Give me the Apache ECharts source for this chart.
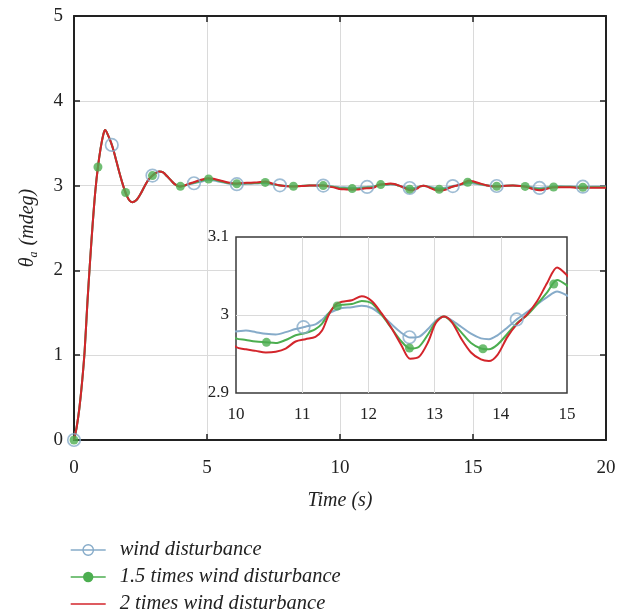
<!DOCTYPE html>
<html><head><meta charset="utf-8">
<script src="https://cdn.jsdelivr.net/npm/echarts@6/dist/echarts.min.js"></script>
<style>html,body{margin:0;padding:0;background:#fff}#c{width:626px;height:612px}</style>
</head><body><div id="c"></div>
<script>
// ---- data ----
const time = [
  0,0.1,0.2,0.3,0.4,0.5,0.6,0.7,0.8,0.9,1.0,1.1,1.17,1.3,1.4,1.5,1.6,1.7,1.8,1.9,2.0,2.1,2.2,
  2.35,2.5,2.65,2.8,2.92,3.05,3.2,3.35,3.5,3.65,3.8,3.98,
  4.15,4.3,4.5,4.75,5.05,5.25,5.5,5.75,6.05,6.35,6.65,6.9,7.2,7.45,7.7,
  8.0,8.25,8.55,8.85,9.1,9.37,9.65,9.85,
  10.0,10.15,10.3,10.45,10.6,10.75,10.9,11.05,11.2,11.3,11.4,11.5,11.6,11.75,11.9,12.05,12.2,12.35,12.5,
  12.63,12.76,12.9,13.02,13.14,13.26,13.4,13.55,13.7,13.82,13.95,14.1,14.25,14.4,14.55,14.7,14.85,15.0,
  15.25,15.5,15.75,16.0,16.25,16.5,16.75,17.0,17.25,17.5,17.75,18.0,18.3,18.65,18.9,19.15,19.5,19.75,20.0
];
const windDisturbance = [
  0,0.15,0.37,0.67,1.05,1.6,2.09,2.54,2.93,3.22,3.44,3.6,3.655,3.58,3.5,3.4,3.28,3.16,3.05,2.95,2.87,2.82,2.805,
  2.83,2.9,2.99,3.07,3.11,3.145,3.165,3.155,3.11,3.06,3.015,2.99,
  3.0,3.013,3.027,3.045,3.065,3.06,3.044,3.028,3.016,3.019,3.022,3.025,3.029,3.015,3.004,
  2.996,2.995,2.997,3.0,3.001,3.0,2.992,2.986,
  2.979,2.980,2.978,2.976,2.975,2.978,2.982,2.985,2.988,2.994,3.002,3.006,3.009,3.010,3.012,3.009,3.0,2.988,2.977,
  2.971,2.972,2.982,2.993,2.998,2.993,2.985,2.976,2.970,2.969,2.974,2.984,2.995,3.004,3.014,3.023,3.030,3.025,
  3.014,3.003,2.995,2.995,2.999,3.0,2.997,2.992,2.98,2.972,2.98,2.989,2.991,2.99,2.988,2.987,2.988,2.988,2.988
];
const wind15Disturbance = [
  0,0.15,0.37,0.67,1.05,1.6,2.09,2.54,2.93,3.22,3.44,3.6,3.655,3.58,3.5,3.4,3.28,3.16,3.05,2.95,2.87,2.82,2.805,
  2.83,2.9,2.99,3.07,3.11,3.145,3.165,3.155,3.11,3.06,3.015,2.99,
  3.0,3.017,3.033,3.055,3.078,3.072,3.052,3.034,3.021,3.025,3.028,3.032,3.038,3.02,3.004,
  2.995,2.992,2.996,3.0,3.001,3.0,2.989,2.979,
  2.970,2.968,2.966,2.965,2.964,2.968,2.974,2.977,2.982,2.989,3.002,3.011,3.013,3.014,3.018,3.015,3.0,2.983,2.966,
  2.957,2.959,2.975,2.991,2.998,2.991,2.978,2.964,2.957,2.956,2.962,2.976,2.99,3.0,3.014,3.029,3.045,3.038,
  3.02,3.004,2.993,2.992,2.998,3.0,2.996,2.989,2.97,2.959,2.97,2.983,2.986,2.985,2.981,2.98,2.982,2.982,2.981
];
const wind2Disturbance = [
  0,0.15,0.37,0.67,1.05,1.6,2.09,2.54,2.93,3.22,3.44,3.6,3.655,3.58,3.5,3.4,3.28,3.16,3.05,2.95,2.87,2.82,2.805,
  2.83,2.9,2.99,3.07,3.11,3.145,3.165,3.155,3.11,3.06,3.015,2.99,
  3.0,3.02,3.04,3.065,3.088,3.08,3.06,3.04,3.025,3.03,3.035,3.04,3.047,3.025,3.005,
  2.993,2.99,2.995,3.0,3.002,3.0,2.985,2.972,
  2.959,2.956,2.954,2.952,2.953,2.957,2.966,2.969,2.972,2.980,3.0,3.013,3.017,3.019,3.024,3.018,3.002,2.983,2.961,
  2.944,2.946,2.965,2.99,2.998,2.991,2.970,2.952,2.943,2.941,2.949,2.972,2.989,3.001,3.018,3.041,3.061,3.051,
  3.027,3.005,2.99,2.99,2.998,3.0,2.995,2.985,2.96,2.945,2.96,2.978,2.982,2.98,2.975,2.973,2.976,2.976,2.975
];
const windMarkerTimes = [0,1.42,2.95,4.51,6.12,7.74,9.37,11.02,12.62,14.24,15.89,17.5,19.13];
const wind15MarkerTimes = [0,0.9,1.94,2.95,4.0,5.06,6.12,7.19,8.25,9.37,10.46,11.53,12.62,13.73,14.8,15.89,16.96,18.03,19.13];
const seriesNames = ['wind disturbance','1.5 times wind disturbance','2 times wind disturbance'];
const mainXRange = [0, 20, 5];
const mainYRange = [0, 5, 1];
const insetXRange = [10, 15, 1];
const insetYRange = [2.9, 3.1, 0.1];
const xName = 'Time (s)';

// ---- styling ----
const SERIF = 'Liberation Serif';
const C_BLUE = '#86abc9', C_GREEN = '#4cae50', C_RED = '#d3252b';
const AX = '#222';
const CLEAR = 'rgba(255,255,255,0)';

function interp(ts, vs, t) {
  for (let i = 1; i < ts.length; i++) {
    if (t <= ts[i]) {
      const f = (t - ts[i-1]) / (ts[i] - ts[i-1]);
      return vs[i-1] + f * (vs[i] - vs[i-1]);
    }
  }
  return vs[vs.length-1];
}
const pairs = vs => time.map((t, i) => [t, vs[i]]);
const markers = (mt, vs) => mt.map(t => [t, interp(time, vs, t)]);

function buildSeries(xi, yi, z) {
  return [
    {name: seriesNames[0], type: 'line', xAxisIndex: xi, yAxisIndex: yi, z: z, data: pairs(windDisturbance),
     smooth: 0.3, symbol: 'circle', showSymbol: false, lineStyle: {color: C_BLUE, width: 2}, itemStyle: {color: C_BLUE}, animation: false, silent: true},
    {name: seriesNames[0], type: 'scatter', xAxisIndex: xi, yAxisIndex: yi, z: z, data: markers(windMarkerTimes, windDisturbance),
     symbol: 'circle', symbolSize: 12.5, itemStyle: {color: CLEAR, borderColor: C_BLUE, borderWidth: 1.7}, animation: false, silent: true},
    {name: seriesNames[1], type: 'line', xAxisIndex: xi, yAxisIndex: yi, z: z, data: pairs(wind15Disturbance),
     smooth: 0.3, symbol: 'circle', showSymbol: false, lineStyle: {color: C_GREEN, width: 2}, itemStyle: {color: C_GREEN}, animation: false, silent: true},
    {name: seriesNames[1], type: 'scatter', xAxisIndex: xi, yAxisIndex: yi, z: z, data: markers(wind15MarkerTimes, wind15Disturbance),
     symbol: 'circle', symbolSize: 9, itemStyle: {color: C_GREEN}, animation: false, silent: true},
    {name: seriesNames[2], type: 'line', xAxisIndex: xi, yAxisIndex: yi, z: z, data: pairs(wind2Disturbance),
     smooth: 0.3, symbol: 'none', showSymbol: false, lineStyle: {color: C_RED, width: 2}, itemStyle: {color: C_RED}, animation: false, silent: true}
  ];
}

const lbl = (size, margin, extra) => Object.assign({fontFamily: SERIF, fontSize: size, color: AX, margin: margin}, extra || {});
const mainTick = {show: true, inside: true, length: 6, lineStyle: {color: AX, width: 1.5}};
const mainLine = {show: true, onZero: false, lineStyle: {color: AX, width: 2}};
const grey = {show: true, lineStyle: {color: '#dadada', width: 1}};

const chart = echarts.init(document.getElementById('c'), null, {renderer: 'canvas'});
chart.setOption({
  backgroundColor: '#fff',
  animation: false,
  grid: [
    {left: 74, top: 16, width: 532, height: 424, containLabel: false},
    {left: 236, top: 237, width: 331, height: 156, show: true, backgroundColor: '#fff', borderColor: '#3a3a3a', borderWidth: 1.5, z: 3}
  ],
  xAxis: [
    {type: 'value', gridIndex: 0, min: mainXRange[0], max: mainXRange[1], interval: mainXRange[2], position: 'bottom',
     axisLine: mainLine, axisTick: mainTick, splitLine: grey, axisLabel: lbl(19, 19),
     name: xName, nameLocation: 'middle', nameGap: 51, nameTextStyle: {fontFamily: SERIF, fontStyle: 'italic', fontSize: 20, color: AX}},
    {type: 'value', gridIndex: 0, min: mainXRange[0], max: mainXRange[1], interval: mainXRange[2], position: 'top',
     axisLine: mainLine, axisTick: mainTick, splitLine: {show: false}, axisLabel: {show: false}},
    {type: 'value', gridIndex: 1, min: insetXRange[0], max: insetXRange[1], interval: insetXRange[2], z: 4,
     axisLine: {show: false}, axisTick: {show: false},
     splitLine: {show: true, showMinLine: false, showMaxLine: false, lineStyle: {color: '#dadada', width: 1}},
     axisLabel: lbl(17, 13)}
  ],
  yAxis: [
    {type: 'value', gridIndex: 0, min: mainYRange[0], max: mainYRange[1], interval: mainYRange[2], position: 'left',
     axisLine: mainLine, axisTick: mainTick, splitLine: grey, axisLabel: lbl(19, 11),
     name: '{t|θ}{s|a}{t| (mdeg)}', nameLocation: 'middle', nameGap: 34, nameRotate: 90,
     nameTextStyle: {rich: {
       t: {fontFamily: SERIF, fontStyle: 'italic', fontSize: 20, color: AX},
       s: {fontFamily: SERIF, fontStyle: 'italic', fontSize: 12, color: AX, padding: [12, 1, 0, 0]}
     }}},
    {type: 'value', gridIndex: 0, min: mainYRange[0], max: mainYRange[1], interval: mainYRange[2], position: 'right',
     axisLine: mainLine, axisTick: mainTick, splitLine: {show: false}, axisLabel: {show: false}},
    {type: 'value', gridIndex: 1, min: insetYRange[0], max: insetYRange[1], interval: insetYRange[2], z: 4,
     axisLine: {show: false}, axisTick: {show: false},
     splitLine: {show: true, showMinLine: false, showMaxLine: false, lineStyle: {color: '#dadada', width: 1}},
     axisLabel: lbl(17, 7, {formatter: v => String(+v.toFixed(1))})}
  ],
  legend: {
    orient: 'vertical', left: 70, top: 540, padding: 0, itemWidth: 35, itemHeight: 13, itemGap: 7,
    height: 80,
    lineStyle: {width: 1.4},
    data: [
      {name: seriesNames[0], itemStyle: {color: CLEAR, borderColor: C_BLUE, borderWidth: 1.4}},
      {name: seriesNames[1]},
      {name: seriesNames[2], itemStyle: {opacity: 0}}
    ],
    textStyle: {fontFamily: SERIF, fontStyle: 'italic', fontSize: 20.5, lineHeight: 18, color: AX, padding: [0, 0, 0, 9]}
  },
  series: buildSeries(0, 0, 2).concat(buildSeries(2, 2, 5))
});
</script></body></html>
